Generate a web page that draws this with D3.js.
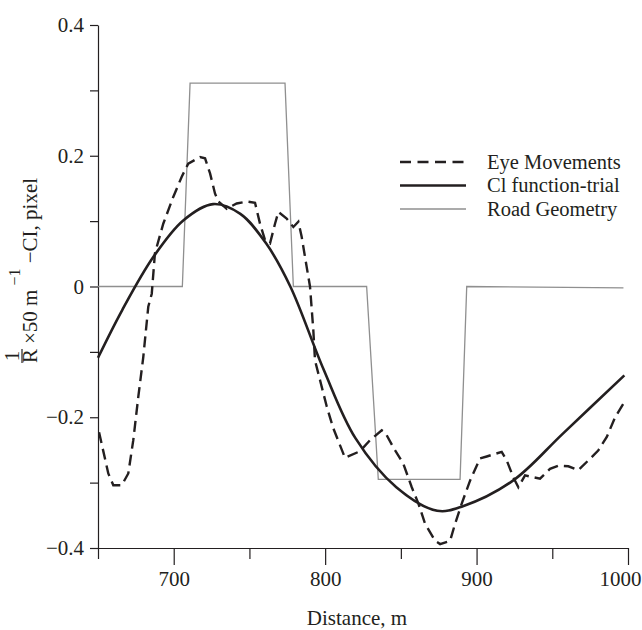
<!DOCTYPE html>
<html lang="en">
<head>
<meta charset="UTF-8">
<title>Eye movements vs road geometry</title>
<script src="https://d3js.org/d3.v7.min.js"></script>
<style>
  body { margin: 0; background: #fff; }
  text { font-family: "Liberation Serif", "DejaVu Serif", serif; fill: #231f20; }
  .axis path, .axis line { stroke: #231f20; stroke-width: 1.2; }
  .axis text { font-size: 21px; }
</style>
</head>
<body>
<svg width="642" height="630"></svg>
<script>
// Road geometry (1/R x 50), step profile
const roadDist = [650, 705.7, 710.8, 773.5, 779, 827.4, 835.1, 889.1, 893.5, 997];
const roadVal  = [0, 0, 0.311, 0.311, 0, 0, -0.295, -0.295, 0, -0.002];

// Cl function-trial (smooth fit)
const clDist = [650, 666, 686.5, 706.3, 726, 744, 761, 777, 799, 820, 847, 874, 891, 924, 957, 997.6];
const clVal  = [-0.109, -0.036, 0.045, 0.101, 0.126, 0.111, 0.066, 0.0, -0.127, -0.232, -0.307, -0.343, -0.336, -0.297, -0.225, -0.136];

// Eye movements
const eyeDist = [650.7, 656.8, 660.1, 665.7, 670.0, 673.3, 676.6, 679.9, 683.2, 685.5, 687.6, 693.1, 699.7, 705.3, 709.6,
  717.4, 720.7, 724.0, 727.3, 729.5, 735.0, 741.6, 748.2, 753.7, 757.0, 760.3, 763.6, 766.9, 769.1, 774.6, 779.0,
  782.3, 784.5, 787.8, 790.0, 792.2, 793.3, 796.6, 801.1, 805.4, 813.1, 823.0, 829.7, 837.4, 839.6, 845.0, 851.6,
  857.2, 861.6, 866.0, 872.6, 875.9, 882.5, 885.8, 890.2, 895.7, 902.3, 906.7, 916.6, 919.9, 924.3, 927.6, 932.0,
  941.9, 948.5, 954.0, 960.6, 967.2, 973.8, 980.3, 986.0, 991.5, 997.0];
const eyeVal = [-0.223, -0.286, -0.304, -0.304, -0.286, -0.235, -0.169, -0.108, -0.031, -0.011, 0.051, 0.096, 0.137, 0.168, 0.188,
  0.198, 0.196, 0.173, 0.142, 0.130, 0.119, 0.127, 0.130, 0.128, 0.096, 0.071, 0.066, 0.096, 0.114, 0.104, 0.091,
  0.099, 0.076, 0.030, 0.0, -0.067, -0.113, -0.143, -0.184, -0.217, -0.262, -0.252, -0.235, -0.220, -0.223, -0.246, -0.271,
  -0.307, -0.332, -0.363, -0.389, -0.394, -0.389, -0.363, -0.332, -0.297, -0.263, -0.260, -0.253, -0.266, -0.292, -0.307, -0.289,
  -0.294, -0.279, -0.274, -0.275, -0.281, -0.266, -0.251, -0.230, -0.200, -0.179];

const xMajor = [700, 800, 900, 1000];
const xMinor = [650, 750, 850, 950];
const yTicks = [-0.4, -0.3, -0.2, -0.1, 0, 0.1, 0.2, 0.3, 0.4];
const yLabelled = [-0.4, -0.2, 0, 0.2, 0.4];

const legendItems = ["Eye Movements", "Cl function-trial", "Road Geometry"];

const svg = d3.select("svg");
const x = d3.scaleLinear().domain([650, 1000]).range([98, 628]);
const y = d3.scaleLinear().domain([-0.4, 0.4]).range([548, 25]);
const ink = "#231f20";

// axes
svg.append("g").attr("class", "axis")
  .attr("transform", `translate(0,${y(-0.4)})`)
  .call(d3.axisBottom(x).tickValues(xMinor).tickSize(11).tickSizeOuter(0).tickFormat(""));
svg.append("g").attr("class", "axis")
  .attr("transform", `translate(0,${y(-0.4)})`)
  .call(d3.axisBottom(x).tickValues(xMajor).tickSize(17).tickSizeOuter(0).tickPadding(6).tickFormat(d3.format("d")))
  .call(g => g.select(".domain").remove())
  .call(g => g.selectAll(".tick text").filter(d => d === 1000).attr("dx", -8));

const fmt = d3.format(".1f");
svg.append("g").attr("class", "axis")
  .attr("transform", `translate(${x(650)},0)`)
  .call(d3.axisLeft(y).tickValues(yTicks).tickSize(8).tickSizeOuter(0).tickPadding(6)
    .tickFormat(d => yLabelled.some(v => Math.abs(v - d) < 1e-9) ? (d === 0 ? "0" : fmt(d)) : ""));

// series
svg.append("path")
  .attr("d", d3.line().x(d => x(d[0])).y(d => y(d[1]))(d3.zip(roadDist, roadVal)))
  .attr("fill", "none").attr("stroke", "#8f8f8f").attr("stroke-width", 1.3);

svg.append("path")
  .attr("d", d3.line().curve(d3.curveCatmullRom).x(d => x(d[0])).y(d => y(d[1]))(d3.zip(clDist, clVal)))
  .attr("fill", "none").attr("stroke", ink).attr("stroke-width", 2.6);

svg.append("path")
  .attr("d", d3.line().x(d => x(d[0])).y(d => y(d[1]))(d3.zip(eyeDist, eyeVal)))
  .attr("fill", "none").attr("stroke", ink).attr("stroke-width", 2.4)
  .attr("stroke-dasharray", "11,6");

// legend
const lg = svg.append("g").attr("transform", "translate(400,162)");
legendItems.forEach((name, i) => {
  const row = lg.append("g").attr("transform", `translate(0,${i * 23.5})`);
  const l = row.append("line").attr("x1", 0).attr("x2", 66).attr("y1", 0).attr("y2", 0);
  if (i === 0) l.attr("stroke", ink).attr("stroke-width", 2.6).attr("stroke-dasharray", "11,6.5");
  if (i === 1) l.attr("stroke", ink).attr("stroke-width", 2.6);
  if (i === 2) l.attr("stroke", "#8f8f8f").attr("stroke-width", 1.3);
  row.append("text").attr("x", 87).attr("y", 6.5).attr("font-size", 20.5).text(name);
});

// x title
svg.append("text").attr("x", 357).attr("y", 625).attr("text-anchor", "middle")
  .attr("font-size", 21).text("Distance, m");

// y title: 1/R x 50 m^-1 - CI, pixel
const yt = svg.append("g").attr("transform", "translate(37,0) rotate(-90)");
yt.append("text").attr("x", -356).attr("y", -18).attr("text-anchor", "middle").attr("font-size", 21).text("1");
yt.append("line").attr("x1", -363).attr("x2", -349).attr("y1", -15).attr("y2", -15)
  .attr("stroke", ink).attr("stroke-width", 1.2);
yt.append("text").attr("x", -356).attr("y", 0).attr("text-anchor", "middle").attr("font-size", 21).text("R");
const yl = yt.append("text").attr("x", -344).attr("y", 0).attr("font-size", 21);
yl.append("tspan").text("×50 m");
yl.append("tspan").attr("dy", -17).attr("font-size", 16).text(" −1");
yl.append("tspan").attr("dy", 17).text(" −CI, pixel");
</script>
</body>
</html>
